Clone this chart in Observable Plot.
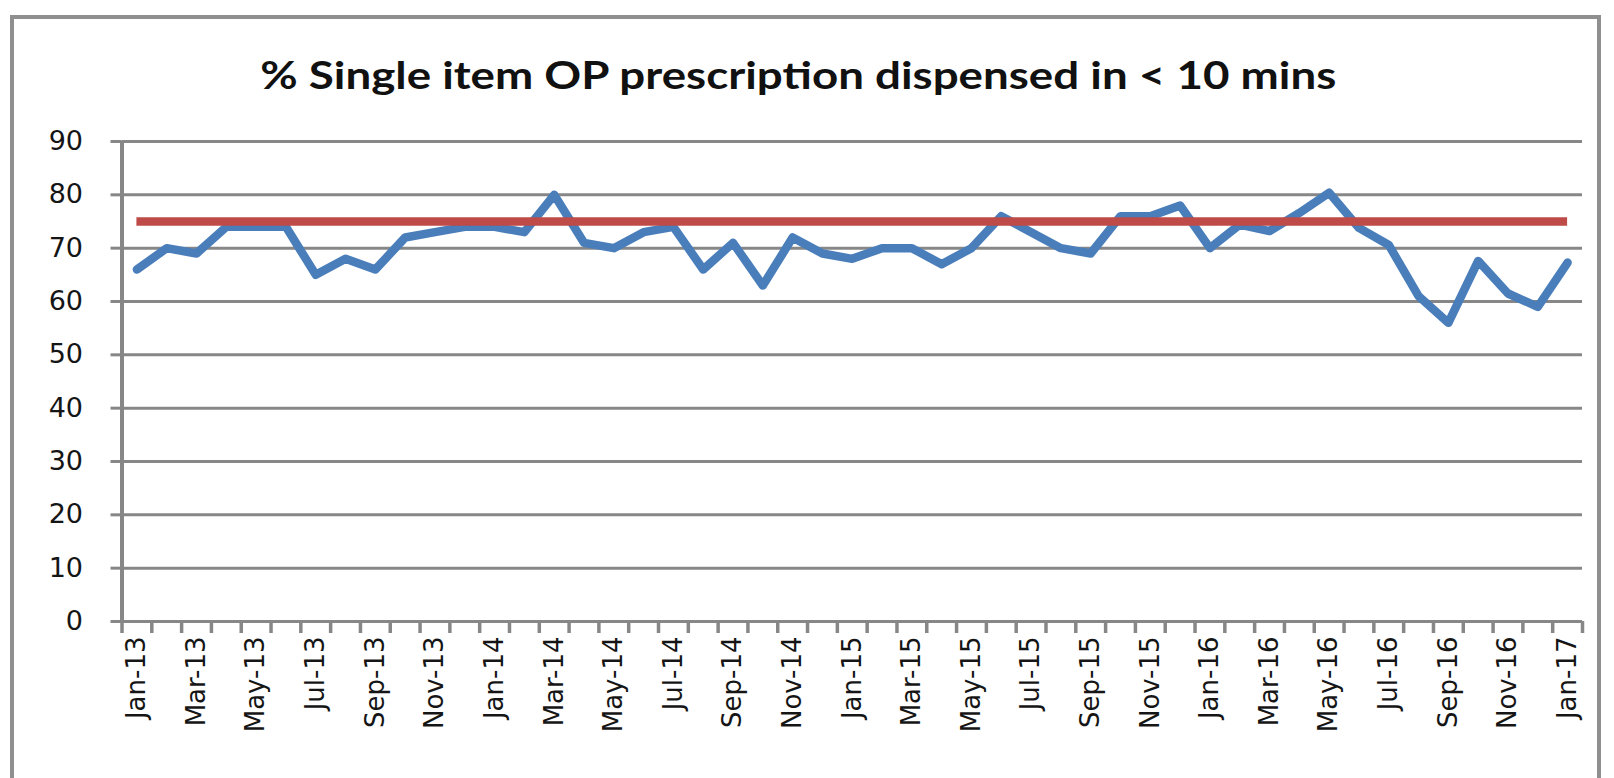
<!DOCTYPE html>
<html>
<head>
<meta charset="utf-8">
<script src="https://cdn.jsdelivr.net/npm/d3@7"></script>
<script src="https://cdn.jsdelivr.net/npm/@observablehq/plot@0.6"></script>
<style>
  html, body { margin: 0; padding: 0; background: #fff; overflow: hidden; }
  #chart { position: absolute; left: 0; top: 0; }
  #border { position: absolute; left: 10px; top: 15px; width: 1591px; height: 800px;
            border: 4px solid #8f8f8f; box-sizing: border-box; pointer-events: none; }
</style>
</head>
<body>
<div id="chart"></div>
<div id="border"></div>
<script>
// Monthly share of single-item outpatient prescriptions dispensed in under 10 minutes
const title = "% Single item OP prescription dispensed in < 10 mins";

const months = [
  "Jan-13","Feb-13","Mar-13","Apr-13","May-13","Jun-13","Jul-13","Aug-13","Sep-13","Oct-13","Nov-13","Dec-13",
  "Jan-14","Feb-14","Mar-14","Apr-14","May-14","Jun-14","Jul-14","Aug-14","Sep-14","Oct-14","Nov-14","Dec-14",
  "Jan-15","Feb-15","Mar-15","Apr-15","May-15","Jun-15","Jul-15","Aug-15","Sep-15","Oct-15","Nov-15","Dec-15",
  "Jan-16","Feb-16","Mar-16","Apr-16","May-16","Jun-16","Jul-16","Aug-16","Sep-16","Oct-16","Nov-16","Dec-16",
  "Jan-17"
];

const pct = [
  66, 70, 69, 74, 74, 74, 65, 68, 66, 72, 73, 74,
  74, 73, 80, 71, 70, 73, 74, 66, 71, 63, 72, 69,
  68, 70, 70, 67, 70, 76, 73, 70, 69, 76, 76, 78,
  70, 74.4, 73.2, 76.6, 80.4, 73.8, 70.6, 61, 56, 67.6, 61.5, 59,
  67.3
];

const target = 75;

const yTicks = [0, 10, 20, 30, 40, 50, 60, 70, 80, 90];

// one row per month, positioned by its index on the category axis
const rows = months.map((m, i) => ({i, month: m, value: pct[i]}));
const xDomain = [-0.5, months.length - 0.5];
// tick marks sit between categories; labels on every other month
const boundaries = d3.range(xDomain[0], xDomain[1] + 0.01, 1);
const labelled = d3.range(0, months.length, 2);

const grey = "#878787";

const chart = Plot.plot({
  width: 1614,
  height: 778,
  marginLeft: 121.5,
  marginRight: 32,
  marginTop: 141,
  marginBottom: 157,
  style: {fontFamily: "'DejaVu Sans', sans-serif", fontSize: "26px", color: "#151515", background: "#fff"},
  x: {domain: xDomain},
  y: {domain: [0, 90]},
  marks: [
    Plot.gridY(yTicks, {stroke: grey, strokeOpacity: 1, strokeWidth: 3}),
    Plot.ruleX([xDomain[0]], {y1: 0, y2: 90, stroke: grey, strokeWidth: 4}),
    Plot.axisY(yTicks, {tickSize: 11, tickPadding: 28, stroke: grey, strokeWidth: 3,
                        fontSize: 27, fill: "#151515", label: null}),
    Plot.ruleX(boundaries, {y1: 0, y2: 0, insetBottom: -12, stroke: grey, strokeWidth: 3.5}),
    Plot.axisX(labelled, {tickSize: 0, tickPadding: 15, tickRotate: -90,
                          tickFormat: (i) => months[i], fill: "#151515", label: null}),
    Plot.line(rows, {x: "i", y: "value", stroke: "#4a7ebb", strokeWidth: 8.5,
                     strokeLinejoin: "round", strokeLinecap: "round"}),
    Plot.ruleY([target], {x1: 0, x2: months.length - 1, stroke: "#be4b48", strokeWidth: 8.5}),
    Plot.text([title], {frameAnchor: "top", dx: -54, dy: -53, lineAnchor: "bottom",
                        fontFamily: "Lato, sans-serif", fontWeight: "bold", fontSize: 38, fill: "#111"})
  ]
});

document.getElementById("chart").appendChild(chart);

// widen the heading to its full span
d3.select(chart).selectAll("text").each(function () {
  if (this.textContent === title) {
    this.setAttribute("textLength", 1076);
    this.setAttribute("lengthAdjust", "spacingAndGlyphs");
  }
});
</script>
</body>
</html>
